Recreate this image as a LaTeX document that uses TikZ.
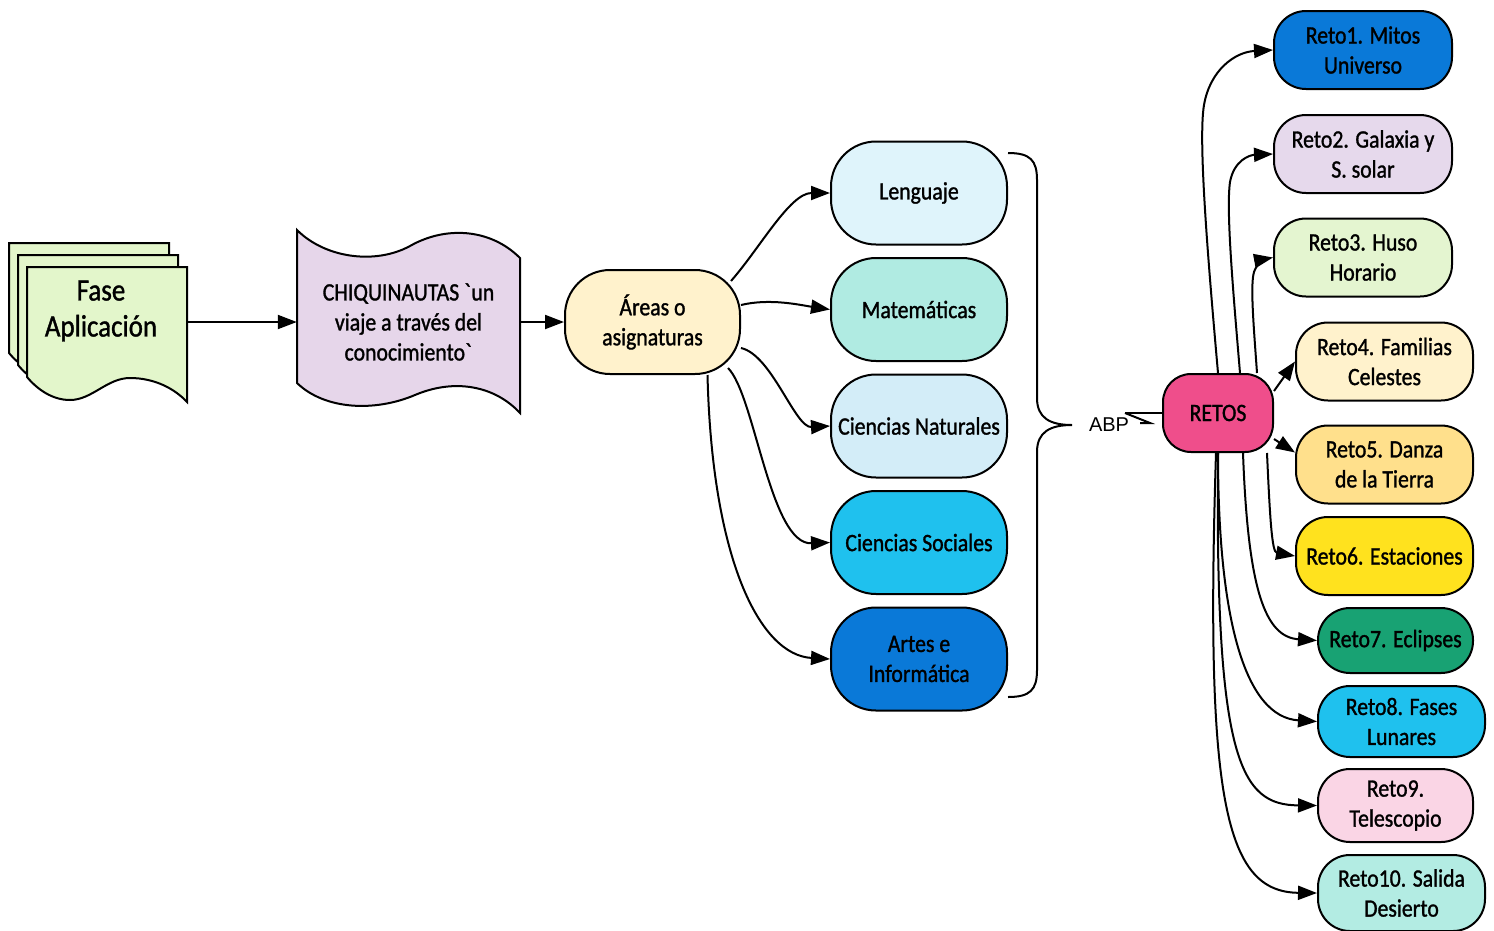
\documentclass[tikz,border=0pt]{standalone}
\usepackage{fontspec}
\setmainfont{Carlito}[FakeStretch=0.87,FakeBold=1.2]
\newfontfamily\abpfont{Liberation Sans}
\usetikzlibrary{arrows.meta}

\definecolor{fasec}{HTML}{E3F6CB}
\definecolor{chiqc}{HTML}{E6D6EA}
\definecolor{areasc}{HTML}{FFF2CC}
\definecolor{lengc}{HTML}{DFF4FB}
\definecolor{matec}{HTML}{B0EBE2}
\definecolor{cnatc}{HTML}{D3EDF8}
\definecolor{csocc}{HTML}{1FC1EE}
\definecolor{artesc}{HTML}{0A79D8}
\definecolor{retosc}{HTML}{EF4E8B}
\definecolor{rdosc}{HTML}{E6D9EC}
\definecolor{rtresc}{HTML}{E4F5D0}
\definecolor{rcincoc}{HTML}{FFE08C}
\definecolor{rseisc}{HTML}{FFE21E}
\definecolor{rsietec}{HTML}{18A273}
\definecolor{rnuevec}{HTML}{FAD5E5}
\definecolor{rdiezc}{HTML}{B3ECE3}

\begin{document}
\begin{tikzpicture}[x=1pt,y=-1pt,
  every node/.style={font=\fontsize{25}{30}\selectfont, align=center},
  ln/.style={line width=2pt},
  arr/.style={line width=2pt, -{Triangle[length=19pt,width=14pt]}},
  subject/.style={draw, line width=2pt, rounded corners=45pt, inner sep=0pt,
    minimum width=176pt, minimum height=103pt},
  retobox/.style={draw, line width=2pt, rounded corners=32pt, inner sep=0pt,
    minimum height=78pt},
  docsheet/.pic={
    \filldraw[fill=fasec, line width=2pt] (0,0) -- (160,0) -- (160,135)
      .. controls (148,122) and (128,111) .. (103,111)
      .. controls (80,111) and (65,133) .. (43,133)
      .. controls (25,133) and (10,122) .. (0,110) -- cycle;
  },
]
\fill[white] (0,0) rectangle (1494,930);
\useasboundingbox (0,0) rectangle (1494,930);

% stacked documents
\pic at (9,243) {docsheet};
\pic at (18,255) {docsheet};
\pic at (27,267) {docsheet};
\node[minimum width=160pt, minimum height=110pt, inner sep=0pt] (fase) at (107,322) {};
\node[font=\fontsize{31}{36}\selectfont] (fasetxt) at (101,311) {Fase\\Aplicación};

% tape shape
\filldraw[fill=chiqc, line width=2pt] (297,230)
  .. controls (325,258) and (375,265) .. (410,246)
  .. controls (445,226) and (490,228) .. (520,258) -- (520,413)
  .. controls (495,386) and (455,378) .. (415,395)
  .. controls (375,412) and (325,410) .. (297,383) -- cycle;
\node[minimum width=223pt, minimum height=150pt, inner sep=0pt] (chiq) at (408.5,322)
  {CHIQUINAUTAS \textasciigrave un\\viaje a través del\\conocimiento\textasciigrave};

% areas
\node[subject, fill=areasc, minimum width=175pt, minimum height=104pt] (areas) at (652.5,322) {Áreas o\\asignaturas};
\node[subject, fill=lengc] (leng) at (919,193) {Lenguaje};
\node[subject, fill=matec] (mate) at (919,309.5) {Matemáticas};
\node[subject, fill=cnatc] (cnat) at (919,426) {Ciencias Naturales};
\node[subject, fill=csocc] (csoc) at (919,542.5) {Ciencias Sociales};
\node[subject, fill=artesc] (artes) at (919,659) {Artes e\\Informática};

\draw[arr] (fase.east) -- (chiq.west);
\draw[arr] (chiq.east) -- (areas.west);

\draw[arr] ([xshift=-10pt,yshift=-12pt]areas.north east) .. controls (760,248) and (790,193) .. (leng.west);
\draw[arr] ([yshift=17pt]areas.east) .. controls (770,298) and (800,305) .. (mate.west);
\draw[arr] ([yshift=-26pt]areas.east) .. controls (772,355) and (795,428) .. (cnat.west);
\draw[arr] ([xshift=-13pt,yshift=7pt]areas.south east) .. controls (755,395) and (770,545) .. (csoc.west);
\draw[arr] ([xshift=55pt]areas.south) .. controls (712,560) and (760,655) .. (artes.west);

% brace
\draw[ln] (1008,153) .. controls (1030,153) and (1037,160) .. (1037,180) -- (1037,398)
  .. controls (1037,418) and (1050,425) .. (1072,425)
  .. controls (1050,425) and (1037,432) .. (1037,452) -- (1037,670)
  .. controls (1037,690) and (1030,697) .. (1008,697);
\node[font=\abpfont\fontsize{20}{22}\selectfont, inner sep=0pt] (abp) at (1109,425) {ABP};

% retos
\node[retobox, fill=retosc, minimum width=110pt, rounded corners=28pt] (retos) at (1218,413) {RETOS};
\coordinate (abpend) at (1125,413);
\draw[ln] (retos.west) -- (abpend);
\draw[ln] (abpend) -- (1150,423) -- (1140,423);

\node[retobox, fill=artesc, minimum width=178pt] (r1) at (1363,50) {Reto1. Mitos\\Universo};
\node[retobox, fill=rdosc, minimum width=178pt] (r2) at (1363,154) {Reto2. Galaxia y\\S. solar};
\node[retobox, fill=rtresc, minimum width=178pt] (r3) at (1363,257.5) {Reto3. Huso\\Horario};
\node[retobox, fill=areasc, minimum width=177pt] (r4) at (1384.5,361.5) {Reto4. Familias\\Celestes};
\node[retobox, fill=rcincoc, minimum width=177pt] (r5) at (1384.5,464.5) {Reto5. Danza\\de la Tierra};
\node[retobox, fill=rseisc, minimum width=177pt] (r6) at (1384.5,556) {Reto6. Estaciones};
\node[retobox, fill=rsietec, minimum width=155pt, minimum height=65pt] (r7) at (1395.5,640.5) {Reto7. Eclipses};
\node[retobox, fill=csocc, minimum width=167pt, minimum height=71pt] (r8) at (1401.5,721.5) {Reto8. Fases\\Lunares};
\node[retobox, fill=rnuevec, minimum width=155pt, minimum height=73pt] (r9) at (1395.5,805.5) {Reto9.\\Telescopio};
\node[retobox, fill=rdiezc, minimum width=167pt, minimum height=76pt] (r10) at (1401.5,893) {Reto10. Salida\\Desierto};

\draw[arr] (retos.north) .. controls (1208,260) and (1198,140) .. (1204,105)
  .. controls (1210,70) and (1235,52) .. (r1.west);
\draw[arr] ([xshift=22pt]retos.north) .. controls (1233,290) and (1226,210) .. (1230,182)
  .. controls (1234,160) and (1250,155) .. (r2.west);
\draw[arr] ([xshift=39pt]retos.north) .. controls (1254,330) and (1250,285) .. (1254,272)
  .. controls (1257,263) and (1265,259) .. (r3.west);
\draw[arr] ([yshift=-18pt]retos.north east) -- (r4.west);
\draw[arr] ([yshift=14pt]retos.south east) -- ([yshift=12pt]r5.west);
\draw[arr] ([xshift=49pt]retos.south) .. controls (1270,520) and (1272,552) .. (r6.west);
\draw[arr] ([xshift=25pt]retos.south) .. controls (1248,590) and (1265,637) .. (r7.west);
\draw[arr] (retos.south) .. controls (1218,620) and (1245,717) .. (r8.west);
\draw[arr] (retos.south) .. controls (1215,760) and (1240,805) .. (r9.west);
\draw[arr] ([xshift=-2pt]retos.south) .. controls (1205,800) and (1225,892) .. (r10.west);
\end{tikzpicture}
\end{document}
